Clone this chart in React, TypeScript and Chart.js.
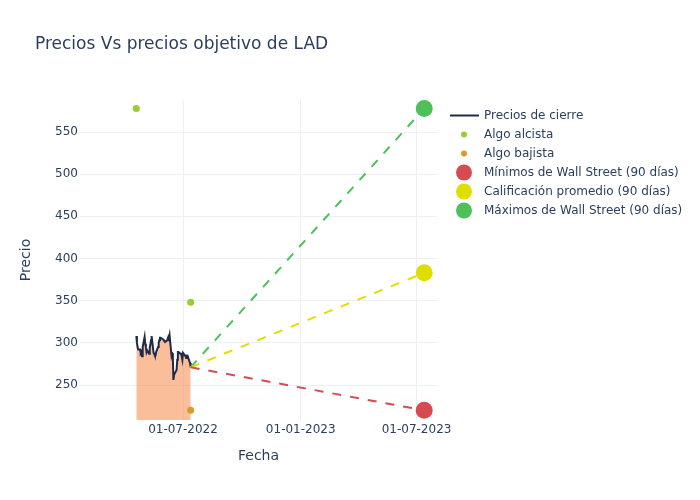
import React, { useEffect, useRef } from 'react';
import { Chart, registerables } from 'chart.js';

Chart.register(...registerables);

// ---- data ----
const closeDates = [
  '2022-04-19', '2022-04-20', '2022-04-21', '2022-04-22', '2022-04-25', '2022-04-26', '2022-04-27', '2022-04-28', '2022-04-29',
  '2022-05-02', '2022-05-03', '2022-05-04', '2022-05-05', '2022-05-06', '2022-05-09', '2022-05-10', '2022-05-11', '2022-05-12',
  '2022-05-13', '2022-05-16', '2022-05-17', '2022-05-18', '2022-05-19', '2022-05-20', '2022-05-23', '2022-05-24', '2022-05-25',
  '2022-05-26', '2022-05-27', '2022-05-31', '2022-06-01', '2022-06-02', '2022-06-03', '2022-06-06', '2022-06-07', '2022-06-08',
  '2022-06-09', '2022-06-10', '2022-06-13', '2022-06-14', '2022-06-15', '2022-06-16', '2022-06-17', '2022-06-21', '2022-06-22',
  '2022-06-23', '2022-06-24', '2022-06-27', '2022-06-28', '2022-06-29', '2022-06-30', '2022-07-01', '2022-07-05', '2022-07-06',
  '2022-07-07', '2022-07-08', '2022-07-11', '2022-07-12', '2022-07-13',
];
const closePrices = [
  308, 300, 295, 292, 292, 287, 288, 284, 295,
  307, 299, 295, 289, 291, 287, 294, 298, 303,
  308, 288, 287, 285, 285, 289, 295, 300, 303,
  306, 306, 304, 303, 302, 301, 303, 305, 307,
  305, 309, 285, 288, 287, 256, 262, 268, 280,
  289, 289, 287, 287, 284, 280, 288, 284, 282,
  285, 285, 278, 276, 271,
];
const bullishDates = ['2022-04-19', '2022-07-13'];
const bullishPrices = [578, 348];
const bearishDates = ['2022-07-13'];
const bearishPrices = [220];
const forecastStart = '2022-07-13';
const forecastEnd = '2023-07-13';
const wallStreetLow = 220;
const wallStreetAvg = 383;
const wallStreetHigh = 578;
const xTickDates = ['2022-07-01', '2023-01-01', '2023-07-01'];
const yTickValues = [250, 300, 350, 400, 450, 500, 550];
const xRange = ['2022-01-21', '2023-08-02'];
const yRange = [208.5, 588];
const legendLabels = [
  'Precios de cierre',
  'Algo alcista',
  'Algo bajista',
  'Mínimos de Wall Street (90 días)',
  'Calificación promedio (90 días)',
  'Máximos de Wall Street (90 días)',
];
const titleText = 'Precios Vs precios objetivo de LAD';

// ---- styles ----
const FONT = '"DejaVu Sans", Verdana, sans-serif';
const TEXT = '#2a3f5f';
const GRID = '#ebf0f8';
const C_LINE = '#1f2a48';
const C_FILL = 'rgba(245,125,55,0.5)';
const C_BULL = '#9acd32';
const C_BEAR = '#dc9a2c';
const C_LOW = '#d64a51';
const C_AVG = '#dede00';
const C_HIGH = '#4dc05a';

const t = (s: string) => Date.parse(s + 'T00:00:00Z');
const pad2 = (n: number) => (n < 10 ? '0' + n : '' + n);
const fmt = (v: number) => {
  const d = new Date(v);
  return pad2(d.getUTCDate()) + '-' + pad2(d.getUTCMonth() + 1) + '-' + d.getUTCFullYear();
};

const overlay = {
  id: 'overlay',
  afterDraw(chart: any) {
    const ctx = chart.ctx;
    ctx.save();
    ctx.fillStyle = TEXT;
    ctx.font = `17px ${FONT}`;
    ctx.textBaseline = 'middle';
    ctx.textAlign = 'left';
    ctx.fillText(titleText, 35, 45);

    const kinds = [
      { kind: 'line', color: C_LINE, r: 0 },
      { kind: 'pt', color: C_BULL, r: 3 },
      { kind: 'pt', color: C_BEAR, r: 3 },
      { kind: 'pt', color: C_LOW, r: 8 },
      { kind: 'pt', color: C_AVG, r: 8 },
      { kind: 'pt', color: C_HIGH, r: 8 },
    ];
    ctx.font = `12px ${FONT}`;
    legendLabels.forEach((label, i) => {
      const y = 115.5 + i * 19;
      const k = kinds[i];
      if (k.kind === 'line') {
        ctx.strokeStyle = k.color;
        ctx.lineWidth = 2;
        ctx.beginPath();
        ctx.moveTo(450, y);
        ctx.lineTo(479, y);
        ctx.stroke();
      } else {
        ctx.fillStyle = k.color;
        ctx.beginPath();
        ctx.arc(464, y, k.r, 0, Math.PI * 2);
        ctx.fill();
      }
      ctx.fillStyle = TEXT;
      ctx.fillText(label, 484, y);
    });
    ctx.restore();
  },
};

export default function App() {
  const ref = useRef<HTMLCanvasElement | null>(null);
  useEffect(() => {
    if (!ref.current) return;
    const closeData = closeDates.map((d, i) => ({ x: t(d), y: closePrices[i] }));
    const last = closePrices[closePrices.length - 1];
    const mkLine = (target: number, color: string) => ({
      data: [
        { x: t(forecastStart), y: last },
        { x: t(forecastEnd), y: target },
      ],
      borderColor: color,
      borderWidth: 2,
      borderDash: [9, 9],
      pointRadius: 0,
      showLine: true,
      fill: false,
      order: 3,
    });
    const mkPt = (dates: string[], vals: number[], color: string, r: number) => ({
      data: dates.map((d, i) => ({ x: t(d), y: vals[i] })),
      showLine: false,
      pointRadius: r,
      pointHoverRadius: r,
      pointBackgroundColor: color,
      pointBorderWidth: 0,
      borderColor: color,
      fill: false,
      clip: false,
      order: 1,
    });
    const chart = new Chart(ref.current, {
      type: 'line',
      data: {
        datasets: [
          {
            data: closeData,
            borderColor: C_LINE,
            borderWidth: 2,
            backgroundColor: C_FILL,
            fill: 'start',
            pointRadius: 0,
            tension: 0,
            order: 4,
          } as any,
          mkLine(wallStreetLow, C_LOW),
          mkLine(wallStreetAvg, C_AVG),
          mkLine(wallStreetHigh, C_HIGH),
          mkPt(bullishDates, bullishPrices, C_BULL, 3.5),
          mkPt(bearishDates, bearishPrices, C_BEAR, 3.5),
          mkPt([forecastEnd], [wallStreetLow], C_LOW, 8.5),
          mkPt([forecastEnd], [wallStreetAvg], C_AVG, 8.5),
          mkPt([forecastEnd], [wallStreetHigh], C_HIGH, 8.5),
        ],
      },
      options: {
        animation: false,
        responsive: false,
        devicePixelRatio: 1,
        layout: { padding: { left: 0, right: 263, top: 100, bottom: 0 } },
        plugins: { legend: { display: false }, tooltip: { enabled: false }, title: { display: false } },
        scales: {
          x: {
            type: 'linear',
            min: t(xRange[0]),
            max: t(xRange[1]),
            afterBuildTicks: (s: any) => {
              s.ticks = xTickDates.map((d) => ({ value: t(d) }));
            },
            afterFit: (s: any) => {
              s.height = 80;
            },
            ticks: {
              callback: (v: any) => fmt(Number(v)),
              color: TEXT,
              font: { family: FONT, size: 12 },
              padding: 3,
              maxRotation: 0,
              autoSkip: false,
            },
            grid: { color: GRID, drawTicks: false, lineWidth: 1 },
            border: { display: false },
            title: {
              display: true,
              text: 'Fecha',
              color: TEXT,
              font: { family: FONT, size: 14 },
              padding: { top: 0, bottom: 35 },
            },
          },
          y: {
            type: 'linear',
            min: yRange[0],
            max: yRange[1],
            afterBuildTicks: (s: any) => {
              s.ticks = yTickValues.map((v) => ({ value: v }));
            },
            afterFit: (s: any) => {
              s.width = 80;
            },
            ticks: {
              color: TEXT,
              font: { family: FONT, size: 12 },
              padding: 2,
            },
            grid: { color: GRID, drawTicks: false, lineWidth: 1 },
            border: { display: false },
            title: {
              display: true,
              text: 'Precio',
              color: TEXT,
              font: { family: FONT, size: 14 },
              padding: { top: 17.6, bottom: 0 },
            },
          },
        },
      } as any,
      plugins: [overlay],
    });
    return () => chart.destroy();
  }, []);
  return (
    <div style={{ position: 'fixed', left: 0, top: 0, width: 700, height: 500, background: '#fff' }}>
      <canvas ref={ref} width={700} height={500} style={{ width: 700, height: 500 }} />
    </div>
  );
}
